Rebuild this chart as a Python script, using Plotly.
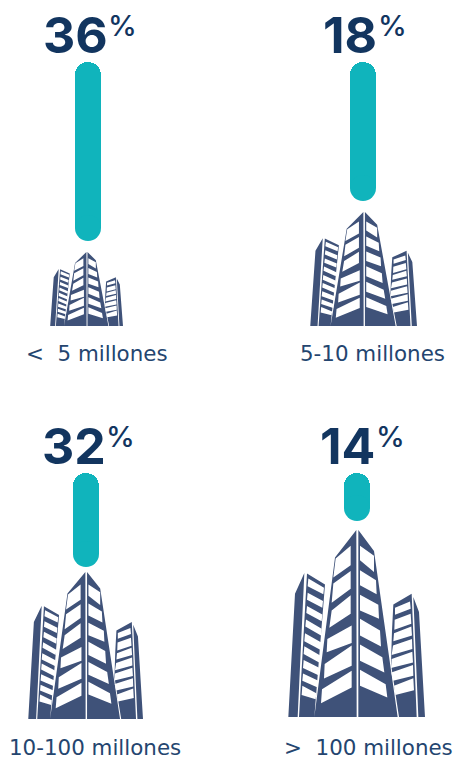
import plotly.graph_objects as go

# Survey shares by company revenue band
categories = ["&lt;\u00a0\u00a05 millones", "5-10 millones", "10-100 millones", "&gt;\u00a0\u00a0100 millones"]
shares = [36, 18, 32, 14]

W, H = 454, 760
NAVY = "#12355f"
LABEL = "#24456f"
TEAL = "#10b4bc"
BUILDING = "#3f5279"
BAR_W = 26

# Panel geometry in pixels: bar centre, bar top, bar bottom
bar_cx = [88, 363, 86, 357]
bar_top = [62, 62, 473, 473]
bar_bot = [241, 201, 567, 521]
# Value label: right edge of the number, vertical centre
num_right = [108.5, 378, 106.5, 376]
num_cy = [35, 35, 446, 446]
# Category label: centre x, centre y
label_cx = [97, 372, 94.5, 368]
label_cy = [353.5, 353.5, 747.5, 747.5]
# Building box: left, right, top, bottom
bld_box = [(50, 123, 252, 326), (310, 417, 212, 326), (28, 143, 572, 719), (288, 425, 530, 717)]

# Icon outline, in a 410 x 558 drawing grid
SOLIDS = [
    [(1, 558), (21, 190), (49, 128), (29, 558)],
    [(33, 558), (57, 130), (111, 163), (79, 558)],
    [(205, 0), (141, 82), (79, 558), (206, 558)],
    [(211, 0), (258, 63), (329, 558), (211, 558)],
    [(316, 222), (371, 190), (386, 558), (333, 558), (309, 400), (312, 300)],
    [(376, 200), (393, 245), (411, 558), (391, 558)],
]
WINDOWS = [
    # left tower
    [(61, 145), (108, 172), (106, 192), (59, 168)],
    [(59, 187), (105, 212), (103, 232), (57, 208)],
    [(57, 227), (103, 252), (101, 272), (55, 248)],
    [(54, 267), (101, 295), (99, 315), (52, 288)],
    [(51, 308), (100, 336), (98, 358), (49, 332)],
    [(49, 347), (98, 375), (96, 397), (47, 370)],
    [(47, 388), (95, 412), (93, 434), (45, 412)],
    [(45, 428), (91, 450), (89, 470), (43, 450)],
    [(43, 465), (85, 487), (83, 505), (41, 492)],
    # central tower, left face
    [(188, 47), (188, 105), (136, 142), (143, 85)],
    [(188, 122), (188, 175), (131, 217), (136, 160)],
    [(188, 195), (188, 250), (124, 292), (131, 240)],
    [(191, 285), (191, 337), (116, 365), (118, 325)],
    [(191, 345), (191, 405), (108, 443), (110, 400)],
    [(191, 420), (191, 470), (99, 517), (102, 475)],
    # central tower, right face
    [(216, 47), (258, 77), (258, 125), (216, 90)],
    [(216, 120), (264, 150), (266, 192), (216, 165)],
    [(216, 193), (271, 223), (273, 265), (216, 240)],
    [(216, 265), (276, 300), (279, 348), (216, 315)],
    [(216, 342), (283, 380), (289, 425), (216, 390)],
    [(216, 417), (293, 460), (298, 500), (216, 465)],
    # right tower
    [(321, 232), (366, 213), (368, 235), (321, 253)],
    [(320, 268), (368, 250), (370, 280), (319, 298)],
    [(318, 308), (370, 288), (372, 315), (316, 332)],
    [(315, 345), (372, 325), (373, 355), (311, 373)],
    [(311, 385), (373, 363), (375, 395), (309, 412)],
    [(310, 425), (375, 403), (376, 435), (315, 450)],
    [(318, 465), (376, 442), (378, 478), (322, 492)],
]


def path_for(poly, box):
    """Scale a polygon from the icon grid into paper coordinates."""
    x0, x1, y0, y1 = box
    pts = [(x0 + px / 411 * (x1 - x0), y0 + py / 558 * (y1 - y0)) for px, py in poly]
    pts = [(px / W, 1 - py / H) for px, py in pts]
    return "M" + " L".join(f"{a:.5f},{b:.5f}" for a, b in pts) + " Z"


fig = go.Figure()
annotations, shapes = [], []
layout_axes = {}

for i, (cat, share) in enumerate(zip(categories, shares)):
    suffix = "" if i == 0 else str(i + 1)
    xa, ya = f"x{suffix}", f"y{suffix}"
    # The bar rises from zero to the share; a round marker closes its lower end
    fig.add_trace(go.Bar(x=[cat], y=[share], xaxis=xa, yaxis=ya, width=[1],
                         marker=dict(color=TEAL, cornerradius=BAR_W / 2, line_width=0),
                         hoverinfo="skip"))
    fig.add_trace(go.Scatter(x=[cat], y=[0], xaxis=xa, yaxis=ya, mode="markers", cliponaxis=False,
                             marker=dict(color=TEAL, size=BAR_W, line_width=0), hoverinfo="skip"))
    layout_axes[f"xaxis{suffix}"] = dict(
        domain=[(bar_cx[i] - BAR_W / 2) / W, (bar_cx[i] + BAR_W / 2) / W],
        type="category", range=[-0.5, 0.5], visible=False, anchor=ya)
    layout_axes[f"yaxis{suffix}"] = dict(
        domain=[1 - (bar_bot[i] - BAR_W / 2) / H, 1 - bar_top[i] / H],
        range=[0, share], visible=False, anchor=xa)

    annotations.append(dict(text=f"<b>{share}</b>", x=num_right[i] / W, y=1 - num_cy[i] / H,
                            xref="paper", yref="paper", xanchor="right", yanchor="middle", showarrow=False,
                            font=dict(family="Inter", size=50, color=NAVY, weight=800), borderpad=0))
    annotations.append(dict(text="%", x=(num_right[i] - 1.5) / W, y=1 - (num_cy[i] - 10) / H,
                            xref="paper", yref="paper", xanchor="left", yanchor="middle", showarrow=False,
                            font=dict(family="Inter", size=29, color=NAVY, weight=500), borderpad=0))
    annotations.append(dict(text=cat, x=label_cx[i] / W, y=1 - label_cy[i] / H,
                            xref="paper", yref="paper", xanchor="center", yanchor="middle", showarrow=False,
                            font=dict(family="DejaVu Sans", size=21.4, color=LABEL), borderpad=0))

    # Building icon underneath each bar
    shapes.append(dict(type="path", xref="paper", yref="paper", line_width=0, fillcolor=BUILDING, layer="below",
                       path=" ".join(path_for(p, bld_box[i]) for p in SOLIDS)))
    shapes.append(dict(type="path", xref="paper", yref="paper", line_width=0, fillcolor="#ffffff", layer="below",
                       path=" ".join(path_for(p, bld_box[i]) for p in WINDOWS)))

fig.update_layout(width=W, height=H, autosize=False, margin=dict(l=0, r=0, t=0, b=0),
                  paper_bgcolor="white", plot_bgcolor="rgba(0,0,0,0)", showlegend=False,
                  bargap=0, annotations=annotations, shapes=shapes, **layout_axes)

fig.write_html("out.html", config=dict(displayModeBar=False))
